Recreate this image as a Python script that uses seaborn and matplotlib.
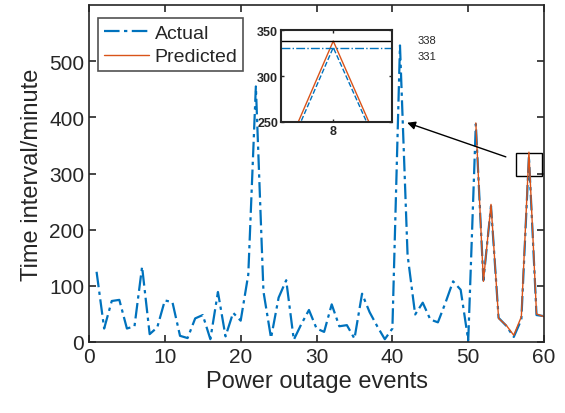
import numpy as np
import pandas as pd
import seaborn as sns
import matplotlib.pyplot as plt

# Data
events = list(range(1, 61))
actual = [125, 24, 73, 75, 24, 28, 134, 14, 26, 74,
          71, 11, 7, 42, 48, 5, 89, 10, 52, 38,
          120, 455, 90, 7, 79, 110, 4, 32, 57, 24,
          18, 67, 28, 30, 6, 86, 53, 28, 5, 24,
          528, 155, 49, 70, 40, 35, 70, 108, 93, 3,
          388, 110, 242, 43, 29, 9, 40, 331, 48, 46]
pred_events = list(range(51, 61))
predicted = [390, 108, 245, 42, 30, 12, 45, 338, 50, 45]

# zoom window (predicted index 8 -> event 58)
zoom_idx = list(range(1, 11))
peak_pred = 338
peak_actual = 331

blue = "#0072BD"
orange = "#D95319"

df_act = pd.DataFrame({"event": events, "value": actual})
df_pred = pd.DataFrame({"event": pred_events, "value": predicted})
df_zoom_act = pd.DataFrame({"idx": zoom_idx, "value": actual[50:]})
df_zoom_pred = pd.DataFrame({"idx": zoom_idx, "value": predicted})

sns.set_theme(style="ticks")
plt.rcParams["font.family"] = ["Liberation Sans", "DejaVu Sans"]

fig = plt.figure(figsize=(5.65, 4.14), dpi=100)
ax = fig.add_axes([0.1575, 0.1715, 0.8055, 0.814])

sns.lineplot(data=df_act, x="event", y="value", ax=ax, color=blue,
             linestyle=(0, (7, 2, 1.5, 2)), linewidth=1.6, label="Actual")
sns.lineplot(data=df_pred, x="event", y="value", ax=ax, color=orange,
             linestyle="-", linewidth=1.0, label="Predicted")

ax.set_xlim(0, 60)
ax.set_ylim(0, 600)
ax.set_xticks([0, 10, 20, 30, 40, 50, 60])
ax.set_yticks([0, 100, 200, 300, 400, 500])
ax.set_xlabel("Power outage events", fontsize=17, labelpad=3)
ax.set_ylabel("Time interval/minute", fontsize=17, labelpad=4)
ax.tick_params(direction="in", top=True, right=True, labelsize=15,
               length=5, width=1.2, colors="#262626")
for s in ax.spines.values():
    s.set_linewidth(1.2)
    s.set_color("#262626")

leg = ax.legend(loc="upper left", fontsize=14, frameon=True, fancybox=False,
                borderpad=0.3, labelspacing=0.3, handlelength=2.3,
                handletextpad=0.3, borderaxespad=0,
                bbox_to_anchor=(0.02, 0.96))
leg.get_frame().set_edgecolor("#262626")
leg.get_frame().set_linewidth(1.2)

# zoom box and arrow
ax.add_patch(plt.Rectangle((56.3, 296), 3.4, 40, fill=False,
                           edgecolor="black", linewidth=1.0))
ax.annotate("", xy=(41.6, 392), xytext=(55.3, 328),
            arrowprops=dict(arrowstyle="-|>", color="black", lw=1.0,
                            mutation_scale=12))
ax.text(43.3, 538, str(peak_pred), fontsize=8, va="center")
ax.text(43.3, 509, str(peak_actual), fontsize=8, va="center")

# inset
axin = fig.add_axes([0.497, 0.703, 0.196, 0.222])
sns.lineplot(data=df_zoom_act, x="idx", y="value", ax=axin, color=blue,
             linestyle="--", linewidth=1.0)
sns.lineplot(data=df_zoom_pred, x="idx", y="value", ax=axin, color=orange,
             linestyle="-", linewidth=1.0)
axin.axhline(peak_pred, color="black", linewidth=1.0)
axin.axhline(peak_actual, color=blue, linestyle="-.", linewidth=1.0)
axin.set_xlim(7.55, 8.5)
axin.set_ylim(250, 350)
axin.set_xticks([8])
axin.set_yticks([250, 300, 350])
axin.set_xlabel("")
axin.set_ylabel("")
axin.tick_params(direction="in", top=True, right=True, labelsize=9,
                 length=2, width=1.0, pad=2, colors="#262626")
for lab in axin.get_xticklabels() + axin.get_yticklabels():
    lab.set_fontweight("bold")
for s in axin.spines.values():
    s.set_linewidth(1.5)
    s.set_color("#262626")

fig.savefig("out.png", dpi=100)
